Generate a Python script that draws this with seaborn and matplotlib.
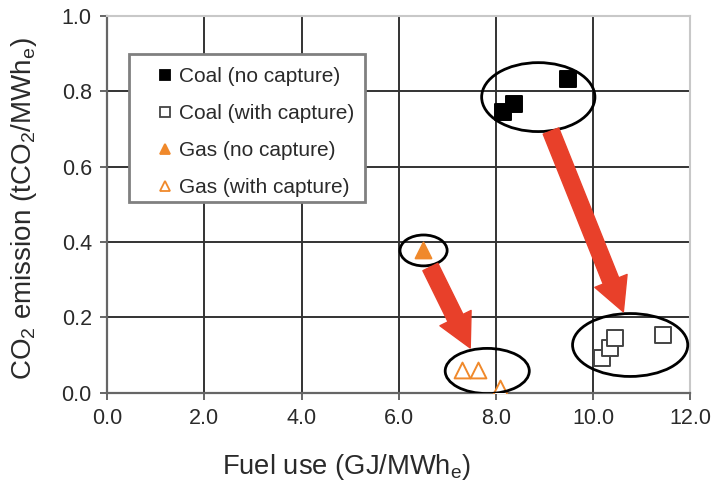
import matplotlib
matplotlib.use("Agg")
import matplotlib.pyplot as plt
import seaborn as sns
import pandas as pd
from matplotlib.patches import Ellipse, Rectangle
from matplotlib.lines import Line2D

# ---- data ----
coal_nc_x = [8.15, 8.37, 9.49]
coal_nc_y = [0.745, 0.767, 0.833]
coal_c_x = [10.19, 10.35, 10.45, 11.44]
coal_c_y = [0.093, 0.119, 0.146, 0.154]
gas_nc_x = [6.50]
gas_nc_y = [0.380]
gas_c_x = [7.30, 7.63, 8.09]
gas_c_y = [0.061, 0.061, 0.013]

labels = ["Coal (no capture)", "Coal (with capture)", "Gas (no capture)", "Gas (with capture)"]
xticks = [0, 2, 4, 6, 8, 10, 12]
yticks = [0.0, 0.2, 0.4, 0.6, 0.8, 1.0]

# ellipses (center x, center y, width, height)
ellipses = [(8.87, 0.785, 2.33, 0.183), (10.76, 0.127, 2.37, 0.167),
            (6.51, 0.378, 0.97, 0.082), (7.82, 0.058, 1.73, 0.120)]
# arrows (start, end)
arrows = [((9.13, 0.695), (10.62, 0.215)), ((6.65, 0.334), (7.47, 0.119))]

sns.set_style("white")
plt.rcParams['font.family'] = ['Liberation Sans', 'DejaVu Sans']
plt.rcParams['mathtext.fontset'] = 'custom'
plt.rcParams['mathtext.rm'] = 'Liberation Sans'
plt.rcParams['mathtext.it'] = 'Liberation Sans:italic'

ORANGE = "#f0892b"
RED = "#e8402a"
GRID = "#333333"
TXT = "#2a2a2a"

fig = plt.figure(figsize=(7.14, 4.88), dpi=100)
ax = fig.add_axes([0.150, 0.195, 0.817, 0.772])

df = pd.concat([
    pd.DataFrame({"x": coal_nc_x, "y": coal_nc_y, "g": labels[0]}),
    pd.DataFrame({"x": coal_c_x, "y": coal_c_y, "g": labels[1]}),
    pd.DataFrame({"x": gas_nc_x, "y": gas_nc_y, "g": labels[2]}),
    pd.DataFrame({"x": gas_c_x, "y": gas_c_y, "g": labels[3]}),
])

styles = {
    labels[0]: dict(marker="s", fc="black", ec="black"),
    labels[1]: dict(marker="s", fc="white", ec="#444444"),
    labels[2]: dict(marker="^", fc=ORANGE, ec=ORANGE),
    labels[3]: dict(marker="^", fc="white", ec=ORANGE),
}

for lab in labels:
    sub = df[df.g == lab]
    st = styles[lab]
    sns.scatterplot(data=sub, x="x", y="y", marker=st["marker"], s=130, ax=ax,
                    facecolor=st["fc"], edgecolor=st["ec"], linewidth=1.4,
                    zorder=4, legend=False)

for cx, cy, w, h in ellipses:
    ax.add_patch(Ellipse((cx, cy), w, h, fill=False, ec="black", lw=2.0, zorder=5))

for (x0, y0), (x1, y1) in arrows:
    ax.annotate("", xy=(x1, y1), xytext=(x0, y0),
                arrowprops=dict(arrowstyle="simple,head_width=1.25,head_length=1.2,tail_width=0.6",
                                mutation_scale=20, color=RED, shrinkA=0, shrinkB=0),
                zorder=6)

ax.set_xlim(0, 12)
ax.set_ylim(0, 1.0)
ax.set_xticks(xticks)
ax.set_xticklabels([f"{v:.1f}" for v in xticks])
ax.set_yticks(yticks)
ax.set_yticklabels([f"{v:.1f}" for v in yticks])
ax.grid(True, color=GRID, lw=1.4)
ax.set_axisbelow(True)
for gl in (ax.xaxis.get_gridlines()[0], ax.xaxis.get_gridlines()[-1],
           ax.yaxis.get_gridlines()[0], ax.yaxis.get_gridlines()[-1]):
    gl.set_visible(False)

for s in ["left", "bottom"]:
    ax.spines[s].set_color("#666666")
    ax.spines[s].set_linewidth(1.6)
for s in ["top", "right"]:
    ax.spines[s].set_color("#c8c8c8")
    ax.spines[s].set_linewidth(1.5)

ax.tick_params(axis="both", direction="out", length=5, width=1.4, color="#666666",
               labelsize=15.5, labelcolor=TXT, bottom=True, left=True, pad=6)

ax.set_xlabel("Fuel use (GJ/MWh$_\\mathrm{e}$)", fontsize=19.7, color=TXT)
ax.set_ylabel("CO$_2$ emission (tCO$_2$/MWh$_\\mathrm{e}$)", fontsize=20, color=TXT)
ax.xaxis.set_label_coords(0.41, -0.158)
ax.yaxis.set_label_coords(-0.116, 0.488)

# legend frame
ax.add_patch(Rectangle((0.0377, 0.507), 0.4048, 0.392, transform=ax.transAxes,
                       fc="white", ec="#808080", lw=2.0, zorder=7))
handles = [Line2D([], [], ls="none", marker=styles[l]["marker"], markersize=7,
                  markerfacecolor=styles[l]["fc"], markeredgecolor=styles[l]["ec"],
                  markeredgewidth=1.3) for l in labels]
leg = ax.legend(handles, labels, loc="upper left", bbox_to_anchor=(0.087, 0.864),
                frameon=False, fontsize=15, labelspacing=0.86, handlelength=0.7,
                handletextpad=0.3, borderpad=0, borderaxespad=0)
leg.set_zorder(8)
for t in leg.get_texts():
    t.set_color(TXT)

fig.savefig("out.png", dpi=100)
